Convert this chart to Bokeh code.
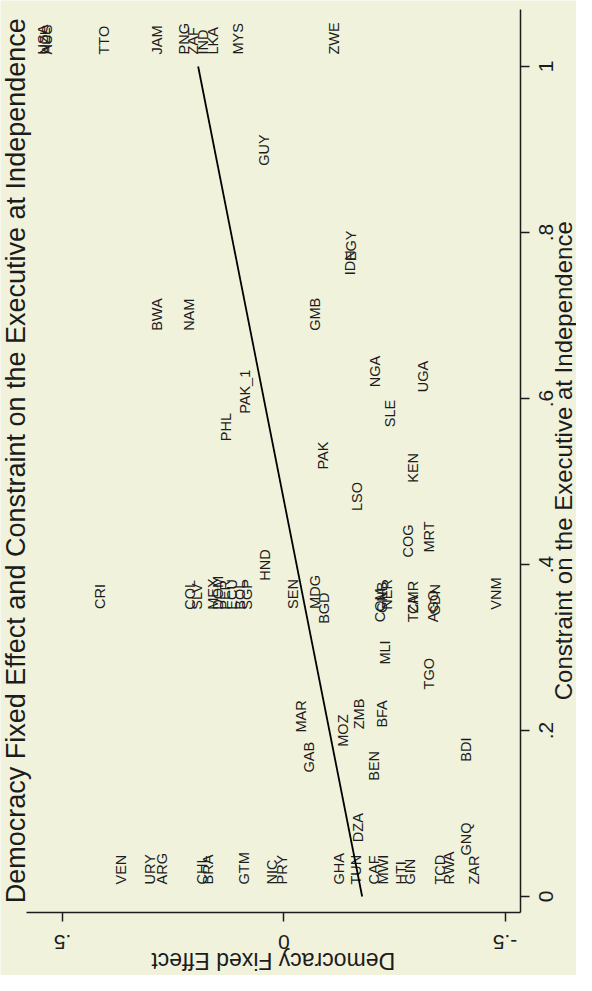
import math
from bokeh.plotting import figure
from bokeh.models import Range1d, FixedTicker, ColumnDataSource, Label
from bokeh.core.properties import value
from bokeh.embed import file_html
from bokeh.resources import INLINE

# ---- data ----
codes = ["VEN", "URY", "ARG", "CHL", "BRA", "GTM", "NIC", "PRY", "GHA", "TUN",
         "CAF", "MWI", "HTI", "GIN", "TCD", "RWA", "ZAR", "GNQ", "DZA", "BEN",
         "GAB", "BDI", "MOZ", "MAR", "ZMB", "BFA", "TGO", "MLI", "BGD", "COM",
         "TZA", "AGO", "GNB", "CMR", "SDN", "NER", "CRI", "SEN", "MDG", "VNM",
         "COL", "SLV", "MEX", "DOM", "PER", "ECU", "BOL", "SGP", "HND", "COG",
         "MRT", "LSO", "KEN", "PAK", "PHL", "SLE", "PAK_1", "UGA", "NGA", "BWA",
         "NAM", "GMB", "IDN", "EGY", "GUY", "ZWE", "JAM", "TTO", "PNG", "ZAF",
         "IND", "LKA", "MYS", "USA", "NZL", "AUS"]
democracy_fe = [0.368, 0.303, 0.275, 0.185, 0.172, 0.091, 0.027, 0.003, -0.124, -0.163,
                -0.203, -0.223, -0.264, -0.286, -0.352, -0.373, -0.429, -0.412, -0.167, -0.204,
                -0.058, -0.412, -0.133, -0.039, -0.169, -0.222, -0.327, -0.229, -0.090, -0.217,
                -0.291, -0.338, -0.221, -0.291, -0.342, -0.234, 0.415, -0.020, -0.071, -0.480,
                0.211, 0.197, 0.161, 0.148, 0.132, 0.116, 0.100, 0.084, 0.042, -0.280,
                -0.327, -0.165, -0.292, -0.088, 0.130, -0.241, 0.087, -0.314, -0.207, 0.287,
                0.215, -0.071, -0.150, -0.152, 0.044, -0.113, 0.287, 0.407, 0.226, 0.205,
                0.183, 0.159, 0.104, 0.545, 0.540, 0.535]
constraint = [0, 0, 0, 0, 0, 0, 0, 0, 0, 0,
              0, 0, 0, 0, 0, 0, 0, 0.035, 0.051, 0.125,
              0.135, 0.148, 0.166, 0.183, 0.187, 0.189, 0.235, 0.265, 0.314, 0.316,
              0.316, 0.316, 0.327, 0.326, 0.325, 0.331, 0.332, 0.332, 0.332, 0.331,
              0.331, 0.331, 0.331, 0.331, 0.331, 0.331, 0.331, 0.331, 0.366, 0.394,
              0.400, 0.450, 0.484, 0.500, 0.534, 0.551, 0.567, 0.593, 0.599, 0.667,
              0.667, 0.667, 0.734, 0.751, 0.866, 1, 1, 1, 1, 1,
              1, 1, 1, 1, 1, 1]
fit_constraint = [0.0, 1.0]
fit_democracy = [-0.177, 0.1935]

x_ticks = [0, 0.2, 0.4, 0.6, 0.8, 1]
x_tick_labels = ["0", ".2", ".4", ".6", ".8", "1"]
y_ticks = [-0.5, 0, 0.5]
y_tick_labels = ["-.5", "0", ".5"]

title_text = "Democracy Fixed Effect and Constraint on the Executive at Independence"
xlab_text = "Constraint on the Executive at Independence"
ylab_text = "Democracy Fixed Effect"

# ---- layout / style constants ----
BG = "#F0F2DC"
INK = "#1c1c1c"
FONT = "Liberation Sans"
C_LO, C_HI = -0.0193, 1.0687        # extent of the constraint axis line
D_LO, D_HI = -0.5337, 0.5813        # extent of the democracy axis line
XTICK_LABEL_D = -0.5913             # where the constraint tick labels sit
XLAB_D = -0.6308
YTICK_LABEL_C = -0.0554             # where the democracy tick labels sit
YLAB_C = -0.0783
TITLE_D = 0.6062
MID_C = 0.525
MID_D = 0.0238

# The Stata graph is shown rotated 90 degrees counter-clockwise:
# screen x carries the democracy effect (reversed), screen y the constraint.
p = figure(width=576, height=975,
           x_range=Range1d(0.6401, -0.6613), y_range=Range1d(-0.0952, 1.0795),
           x_axis_location="below", y_axis_location="right",
           output_backend="svg", toolbar_location=None,
           min_border_left=0, min_border_right=0, min_border_top=0, min_border_bottom=0,
           background_fill_color=BG, border_fill_color=BG, outline_line_color=None)
p.grid.visible = False

for ax, ticks, loc, bounds in ((p.yaxis[0], x_ticks, D_LO, (C_LO, C_HI)),
                                (p.xaxis[0], y_ticks, C_LO, (D_LO, D_HI))):
    ax.ticker = FixedTicker(ticks=ticks)
    ax.fixed_location = loc
    ax.bounds = bounds
    ax.axis_label = None
    ax.major_label_text_font_size = "0px"
    ax.major_label_text_color = None
    ax.axis_line_color = INK
    ax.axis_line_width = 1.5
    ax.major_tick_line_color = INK
    ax.major_tick_line_width = 1.5
    ax.major_tick_in = 0
    ax.major_tick_out = 9
    ax.minor_tick_line_color = None

# tick labels, rotated like the rest of the picture
p.text(x=[XTICK_LABEL_D] * len(x_ticks), y=x_ticks, text=x_tick_labels,
       angle=math.pi / 2, text_align="center", text_baseline="middle",
       text_font=value(FONT), text_font_size="21px", text_color=INK)
p.text(x=y_ticks, y=[YTICK_LABEL_C] * len(y_ticks), text=y_tick_labels,
       angle=math.pi, text_align="center", text_baseline="middle",
       text_font=value(FONT), text_font_size="21px", text_color=INK)

# country labels
src = ColumnDataSource(dict(d=democracy_fe, c=constraint, code=codes))
p.text(x="d", y="c", text="code", source=src, angle=math.pi / 2,
       text_align="left", text_baseline="middle", y_offset=-12,
       text_font=value(FONT), text_font_size="14.5px", text_color=INK)

# fitted line
p.line(x=fit_democracy, y=fit_constraint, line_color="black", line_width=1.8)

# titles
p.add_layout(Label(x=TITLE_D, y=MID_C, text=title_text, angle=math.pi / 2,
                   text_align="center", text_baseline="middle",
                   text_font=FONT, text_font_size="27px", text_color=INK))
p.add_layout(Label(x=XLAB_D, y=MID_C, text=xlab_text, angle=math.pi / 2,
                   text_align="center", text_baseline="middle",
                   text_font=FONT, text_font_size="24px", text_color=INK))
p.add_layout(Label(x=MID_D, y=YLAB_C, text=ylab_text, angle=math.pi,
                   text_align="center", text_baseline="middle",
                   text_font=FONT, text_font_size="23px", text_color=INK))

open("out.html", "w").write(file_html(p, INLINE))
